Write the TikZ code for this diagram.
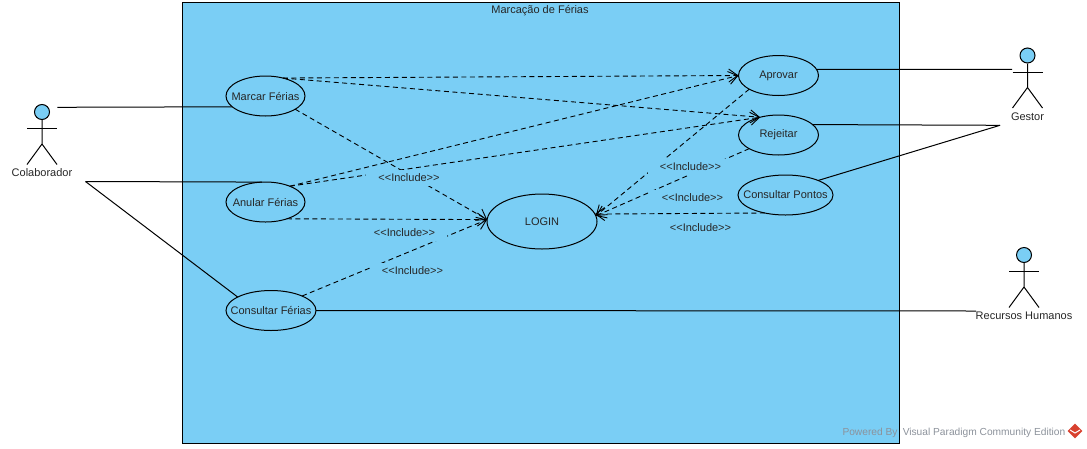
\documentclass[tikz,border=0pt]{standalone}
\usepackage{fontspec}
\setmainfont{Liberation Sans}
\usetikzlibrary{shapes.geometric,arrows.meta}

\definecolor{boxblue}{HTML}{7ACEF5}
\definecolor{markgray}{HTML}{8C929B}
\definecolor{logored}{HTML}{D8412F}

\newcommand{\uc}[1]{\makebox[0pt]{\raisebox{-1pt}{#1}}}

\tikzset{
  labelfont/.style={font=\fontsize{11}{13}\selectfont, text=black!85},
  usecase/.style={ellipse, draw, fill=boxblue, line width=1pt, inner sep=0pt, outer sep=0pt,
                  minimum height=40pt, labelfont},
  assoc/.style={draw, line width=1pt},
  include/.style={draw, line width=.9pt, dash pattern=on 5pt off 3.5pt,
                  -{Straight Barb[length=9pt,width=13pt]}},
  includetext/.style={fill=boxblue, inner xsep=12pt, inner ysep=4pt, labelfont},
  pics/stickman/.style={code={
    \node[circle, draw, fill=boxblue, line width=1pt, minimum size=15pt, inner sep=0pt] (-head) at (0,0) {};
    \draw[line width=1pt] (-head.south) -- (0,32) -- (-15,52.5) (0,32) -- (15,52.5);
    \draw[line width=1pt] (-15,16.5) -- (15,16.5);
    \node[labelfont] (-name) at (0,61) {#1};
  }}
}

\begin{document}
\begin{tikzpicture}[x=1pt,y=-1pt]
  \useasboundingbox (0,0) rectangle (1087,448);

  % system box
  \node[draw, fill=boxblue, line width=1pt, minimum width=717pt, minimum height=441pt,
        inner sep=0pt, outer sep=0pt] (system) at (541,222.5) {};
  \node[labelfont] (title) at (540,11) {Marcação de Férias};

  % watermark
  \node[font=\fontsize{10.2}{12}\selectfont, text=markgray, inner sep=0pt] (powered) at (870,432.5) {Powered By};
  \node[font=\fontsize{10.2}{12}\selectfont, text=markgray, inner sep=0pt] (vpname) at (984,432.5) {Visual Paradigm Community Edition};
  \node[diamond, fill=logored, minimum size=15pt, inner sep=0pt] (logo) at (1075,431) {};
  \draw[white, line width=1pt] (1070,430) -- (1075,433) -- (1080,430);

  % actors
  \pic (colab) at (42,112) {stickman=Colaborador};
  \pic (gestor) at (1027.5,55.5) {stickman=Gestor};
  \pic (rh) at (1024,255) {stickman=Recursos Humanos};

  \coordinate (colabA) at (57.3,107.3);
  \coordinate (colabB) at (85.5,181.5);
  \coordinate (gestorA) at (1012,69.3);
  \coordinate (gestorB) at (1000,125.3);
  \coordinate (rhA) at (976,311);

  \begin{scope}[every node/.style={usecase}]
    \node[minimum width=79pt]  (marcar)    at (265.5,96)   {\uc{Marcar Férias}};
    \node[minimum width=79pt]  (anular)    at (265.5,202)  {\uc{Anular Férias}};
    \node[minimum width=90pt]  (consultar) at (271,310.5)  {\uc{Consultar Férias}};
    \node[minimum width=110pt, minimum height=55pt] (login) at (542,221.5) {\uc{LOGIN}};
    \node[minimum width=80pt]  (aprovar)   at (778.5,75.5) {\uc{Aprovar}};
    \node[minimum width=80pt]  (rejeitar)  at (778.5,135)  {\uc{Rejeitar}};
    \node[minimum width=95pt]  (pontos)    at (785.5,195)  {\uc{Consultar Pontos}};
  \end{scope}

  \path (colabA) edge[assoc] (marcar.198);
  \path (colabB) edge[assoc] (anular.100);
  \path (colabB) edge[assoc] (consultar.158);
  \path (aprovar.9) edge[assoc] (gestorA);
  \path (rejeitar.17) edge[assoc] (gestorB);
  \path (pontos.24) edge[assoc] (gestorB);
  \path (consultar.east) edge[assoc] (rhA);

  \path (marcar.46)    edge[include] (aprovar.180);
  \path (marcar.46)    edge[include] (rejeitar.136);
  \path (marcar.336)   edge[include] (login.178);
  \path (anular.33)    edge[include] (aprovar.180);
  \path (anular.33)    edge[include] (rejeitar.136);
  \path (anular.322)   edge[include] (login.178);
  \path (consultar.25) edge[include] (login.178);
  \path (aprovar.205)  edge[include] (login.6);
  \path (rejeitar.205) edge[include] (login.6);
  \path (pontos.221)   edge[include] (login.8);

  \begin{scope}[every node/.style={includetext}]
    \node (inc1) at (409,178)   {<{}<Include>{}>};
    \node (inc2) at (404.5,233) {<{}<Include>{}>};
    \node (inc3) at (412.5,271) {<{}<Include>{}>};
    \node (inc4) at (690.5,167) {<{}<Include>{}>};
    \node (inc5) at (692.5,198) {<{}<Include>{}>};
    \node (inc6) at (700.5,228) {<{}<Include>{}>};
  \end{scope}
\end{tikzpicture}
\end{document}
